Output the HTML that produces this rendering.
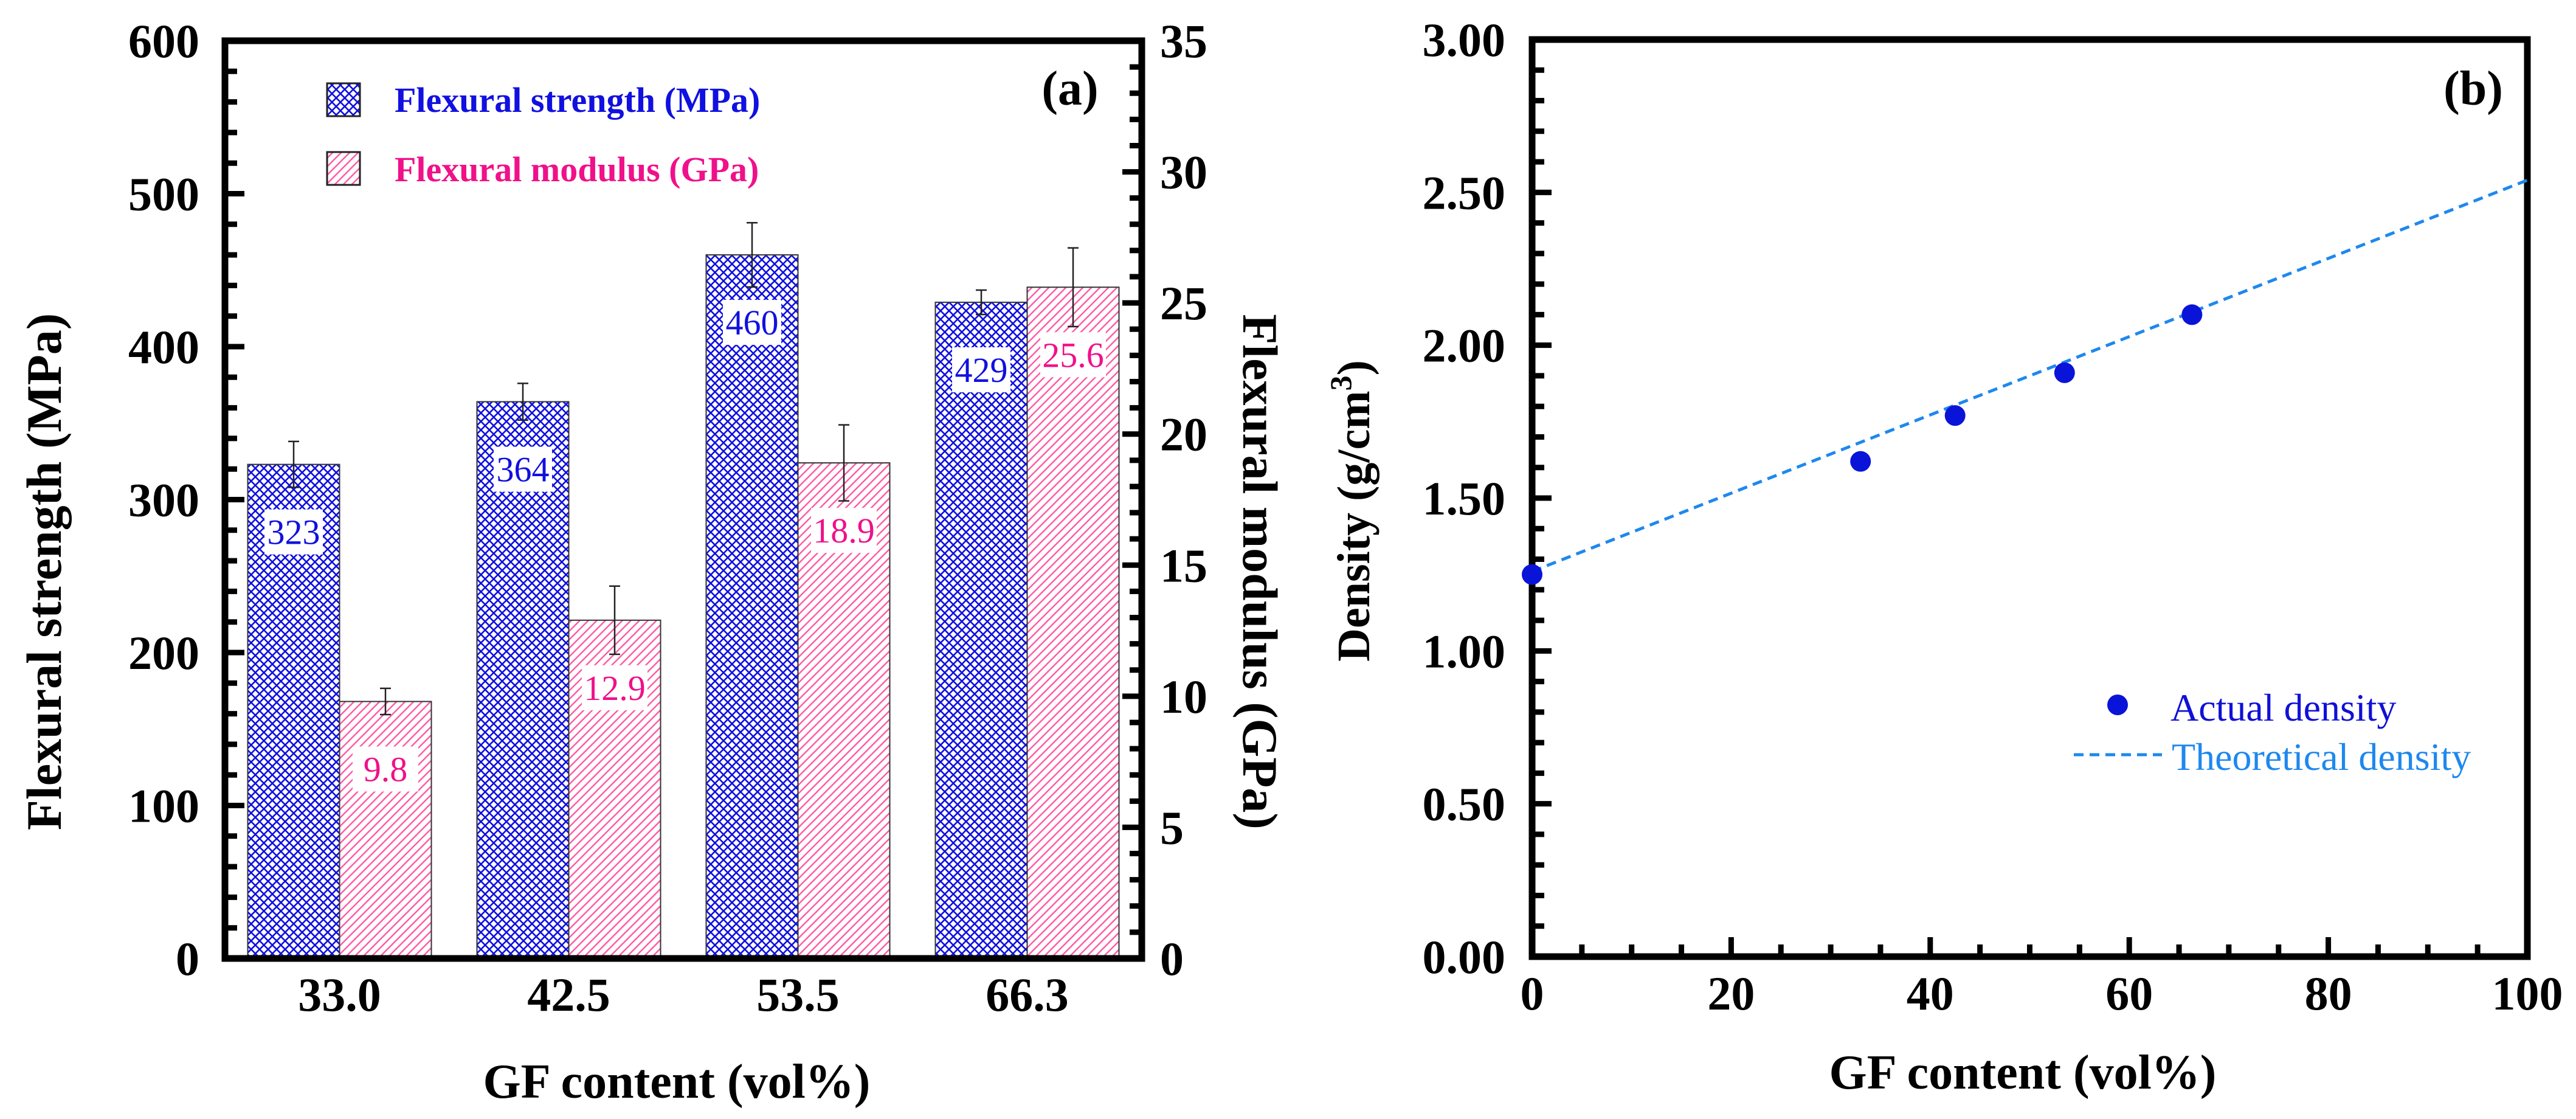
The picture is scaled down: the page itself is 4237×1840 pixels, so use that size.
<!DOCTYPE html>
<html><head><meta charset="utf-8">
<style>
html,body{margin:0;padding:0;background:#fff;}
svg{display:block;font-family:"Liberation Serif","Times New Roman",serif;}
</style></head>
<body>
<svg id="fig" xmlns="http://www.w3.org/2000/svg" width="4237" height="1840" viewBox="0 0 4237 1840">
<defs>
<pattern id="hatchBlue" patternUnits="userSpaceOnUse" width="14" height="14">
<rect width="14" height="14" fill="#fff"/>
<path d="M0,0 L14,14 M14,0 L0,14 M-7,7 L7,21 M7,-7 L21,7 M7,21 L21,7 M-7,7 L7,-7" stroke="#1010e0" stroke-width="2.6"/>
</pattern>
<pattern id="hatchPink" patternUnits="userSpaceOnUse" width="14" height="14">
<rect width="14" height="14" fill="#fff"/>
<path d="M0,14 L14,0 M-7,7 L7,-7 M7,21 L21,7" stroke="#ff5aa5" stroke-width="2.4"/>
</pattern>
</defs>
<g id="panelA"></g>
<g id="panelB"></g>
</svg>
<script>
// ---- Panel (a) data ----
const categoriesA = ["33.0","42.5","53.5","66.3"];
const strengthVals = [323,364,460,429];
const strengthErr = [15,12,21,8];
const modulusVals = [9.8,12.9,18.9,25.6];
const modulusErr = [0.5,1.3,1.45,1.5];
const strengthTicks = [0,100,200,300,400,500,600];
const modulusTicks = [0,5,10,15,20,25,30,35];
// ---- Panel (b) data ----
const gfContent = [0,33,42.5,53.5,66.3];
const actualDensity = [1.25,1.62,1.77,1.91,2.10];
const theoX = [0,100];
const theoY = [1.26,2.54];
const densityTicks = [0,0.5,1.0,1.5,2.0,2.5,3.0];
const gfTicks = [0,20,40,60,80,100];

const NS="http://www.w3.org/2000/svg";
function mk(tag,attrs,parent,text){const e=document.createElementNS(NS,tag);for(const k in attrs)e.setAttribute(k,attrs[k]);if(text!==undefined)e.textContent=text;parent.appendChild(e);return e;}

// ===== Panel A =====
const A=document.getElementById('panelA');
const aL=370,aR=1878,aT=67,aB=1576;
const yS=v=>aB-(v/600)*(aB-aT);
const yM=v=>aB-(v/35)*(aB-aT);
const band=(aR-aL)/categoriesA.length;
const bw=151;
for(let i=0;i<categoriesA.length;i++){
  const c=aL+band*(i+0.5);
  let y=yS(strengthVals[i]);
  let r=mk('rect',{x:c-bw,y:y,width:bw,height:aB-y,fill:'url(#hatchBlue)',stroke:'#333','stroke-width':2},A);
  
  
  let eT=yS(strengthVals[i]+strengthErr[i]),eB=yS(strengthVals[i]-strengthErr[i]);
  let eb=mk('path',{d:`M${c-bw/2},${eT}V${eB}M${c-bw/2-9},${eT}h18M${c-bw/2-9},${eB}h18`,stroke:'#222','stroke-width':2.5,fill:'none'},A);
  
  
  let lb=mk('rect',{x:c-bw/2-48,y:y+74,width:96,height:74,fill:'#fff'},A);
  
  
  let t=mk('text',{x:c-bw/2,y:y+131,'text-anchor':'middle','font-size':58,fill:'#1010e0'},A,String(strengthVals[i]));
  
  
  y=yM(modulusVals[i]);
  r=mk('rect',{x:c,y:y,width:bw,height:aB-y,fill:'url(#hatchPink)',stroke:'#333','stroke-width':2},A);
  
  
  eT=yM(modulusVals[i]+modulusErr[i]);eB=yM(modulusVals[i]-modulusErr[i]);
  eb=mk('path',{d:`M${c+bw/2},${eT}V${eB}M${c+bw/2-9},${eT}h18M${c+bw/2-9},${eB}h18`,stroke:'#222','stroke-width':2.5,fill:'none'},A);
  
  
  lb=mk('rect',{x:c+bw/2-54,y:y+74,width:108,height:74,fill:'#fff'},A);
  
  
  t=mk('text',{x:c+bw/2,y:y+131,'text-anchor':'middle','font-size':58,fill:'#f0108a'},A,modulusVals[i].toFixed(1));
  
  
  t=mk('text',{x:c,y:1662,'text-anchor':'middle','font-size':78,'font-weight':'bold'},A,categoriesA[i]);
  
  
}
let tp='';
for(let v=0;v<=600;v+=20){const y=yS(v);const len=(v%100===0)?32:20;tp+=`M${aL},${y}h${len}`;}
for(let v=0;v<=35;v+=1){const y=yM(v);const len=(v%5===0)?32:20;tp+=`M${aR},${y}h${-len}`;}
let tk=mk('path',{d:tp,stroke:'#000','stroke-width':9,fill:'none'},A);


let fr=mk('rect',{x:aL,y:aT,width:aR-aL,height:aB-aT,fill:'none',stroke:'#000','stroke-width':11},A);


strengthTicks.forEach(v=>{const t=mk('text',{x:328,y:yS(v)+27,'text-anchor':'end','font-size':78,'font-weight':'bold'},A,String(v));
  
  });
modulusTicks.forEach(v=>{const t=mk('text',{x:1908,y:yM(v)+27,'text-anchor':'start','font-size':78,'font-weight':'bold'},A,String(v));
  
  });
let tt=mk('text',{x:0,y:0,transform:`translate(100,940) rotate(-90)`,'text-anchor':'middle','font-size':82,'font-weight':'bold'},A,'Flexural strength (MPa)');


tt=mk('text',{x:0,y:0,transform:`translate(2045,940) rotate(90)`,'text-anchor':'middle','font-size':82,'font-weight':'bold'},A,'Flexural modulus (GPa)');


tt=mk('text',{x:1113,y:1805,'text-anchor':'middle','font-size':80,'font-weight':'bold'},A,'GF content (vol%)');


tt=mk('text',{x:1760,y:172,'text-anchor':'middle','font-size':80,'font-weight':'bold'},A,'(a)');


let lg=mk('g',{},A);


let s=mk('rect',{x:538,y:137,width:54,height:54,fill:'url(#hatchBlue)',stroke:'#222','stroke-width':3},lg);


s=mk('text',{x:649,y:184,'font-size':58,'font-weight':'bold',fill:'#1010e0'},lg,'Flexural strength (MPa)');


s=mk('rect',{x:538,y:250,width:54,height:54,fill:'url(#hatchPink)',stroke:'#222','stroke-width':3},lg);


s=mk('text',{x:649,y:298,'font-size':58,'font-weight':'bold',fill:'#f0108a'},lg,'Flexural modulus (GPa)');



// ===== Panel B =====
const B=document.getElementById('panelB');
const bL=2520,bR=4157,bT=65,bB=1573;
const xB=v=>bL+(v/100)*(bR-bL);
const yB=v=>bB-(v/3)*(bB-bT);
tp='';
for(let v=0;v<=100;v+=5){const len=(v%20===0)?32:20;tp+=`M${xB(v)},${bB}v${-len}`;}
for(let v=0;v<=3.0001;v+=0.1){const k=Math.round(v*10);const len=(k%5===0)?32:20;tp+=`M${bL},${yB(v)}h${len}`;}
tk=mk('path',{d:tp,stroke:'#000','stroke-width':9,fill:'none'},B);


fr=mk('rect',{x:bL,y:bT,width:bR-bL,height:bB-bT,fill:'none',stroke:'#000','stroke-width':11},B);


let ln=mk('line',{x1:xB(theoX[0]),y1:yB(theoY[0]),x2:xB(theoX[1]),y2:yB(theoY[1]),stroke:'#1e88ee','stroke-width':5,'stroke-dasharray':'16 10'},B);


gfContent.forEach((g,i)=>{const c=mk('circle',{cx:xB(g),cy:yB(actualDensity[i]),r:17,fill:'#0a14d8'},B);
  
  });
densityTicks.forEach(v=>{const t=mk('text',{x:2476,y:yB(v)+27,'text-anchor':'end','font-size':78,'font-weight':'bold'},B,v.toFixed(2));
  
  });
gfTicks.forEach(v=>{const t=mk('text',{x:xB(v),y:1660,'text-anchor':'middle','font-size':78,'font-weight':'bold'},B,String(v));
  
  });
tt=mk('text',{x:0,y:0,transform:`translate(2252,840) rotate(-90)`,'text-anchor':'middle','font-size':76,'font-weight':'bold'},B);


mk('tspan',{},tt,'Density (g/cm');
mk('tspan',{dy:-30,'font-size':50},tt,'3');
mk('tspan',{dy:30},tt,')');
tt=mk('text',{x:3327,y:1790,'text-anchor':'middle','font-size':80,'font-weight':'bold'},B,'GF content (vol%)');


tt=mk('text',{x:4068,y:172,'text-anchor':'middle','font-size':80,'font-weight':'bold'},B,'(b)');


lg=mk('g',{},B);


s=mk('circle',{cx:3483,cy:1159,r:17,fill:'#0a14d8'},lg);


s=mk('text',{x:3570,y:1185,'font-size':64,fill:'#1010d8'},lg,'Actual density');


s=mk('line',{x1:3411,y1:1241,x2:3556,y2:1241,stroke:'#1e88ee','stroke-width':5,'stroke-dasharray':'16 10'},lg);


s=mk('text',{x:3572,y:1266,'font-size':64,fill:'#1e88ee'},lg,'Theoretical density');


</script>
</body></html>
